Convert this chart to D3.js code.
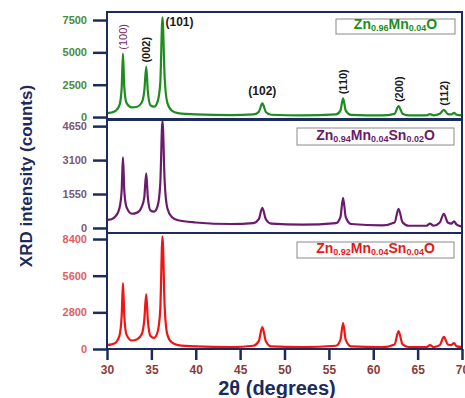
<!DOCTYPE html>
<html>
<head>
<meta charset="utf-8">
<script src="https://cdn.jsdelivr.net/npm/d3@7"></script>
<style>
  body { margin: 0; background: #fff; }
  text { font-family: "Liberation Sans", Arial, sans-serif; font-weight: bold; }
</style>
</head>
<body>
<svg id="chart" width="465" height="398"></svg>
<script>
// 2theta, intensity
const zmo = [[30,300],[30.5,350],[31.0,500],[31.4,900],[31.65,2200],[31.8,4900],[31.95,2300],[32.2,1100],[32.8,750],[33.4,800],[33.9,1100],[34.2,2000],[34.42,3900],[34.6,2000],[34.9,900],[35.3,800],[35.7,1200],[36.0,2600],[36.25,7700],[36.5,3000],[36.8,1100],[37.3,500],[38,300],[40,200],[44,150],[46.5,200],[47.1,400],[47.5,1050],[47.9,400],[48.5,180],[52,130],[55.8,200],[56.3,500],[56.6,1450],[56.9,500],[57.5,170],[61,130],[62.4,250],[62.85,850],[63.3,260],[64,130],[66,130],[66.4,220],[66.8,130],[67.5,250],[67.95,560],[68.4,230],[68.8,200],[69.1,320],[69.4,180],[70,130]];
const zms2 = [[30,370],[30.5,400],[31.0,550],[31.4,900],[31.65,1700],[31.8,3220],[31.95,1700],[32.2,950],[32.8,650],[33.4,700],[33.9,950],[34.2,1400],[34.42,2490],[34.6,1400],[34.9,800],[35.3,750],[35.7,1000],[36.0,2000],[36.25,4900],[36.5,2100],[36.8,900],[37.3,500],[38,350],[40,250],[44,180],[46.5,220],[47.1,400],[47.5,920],[47.9,400],[48.5,200],[52,150],[55.8,220],[56.3,500],[56.6,1380],[56.9,500],[57.5,180],[61,120],[62.4,250],[62.85,875],[63.3,260],[64,100],[66,100],[66.4,200],[66.8,100],[67.5,250],[67.95,650],[68.4,250],[68.8,200],[69.1,300],[69.4,150],[70,60]];
const zms4 = [[30,300],[30.5,350],[31.0,500],[31.4,1000],[31.65,2500],[31.8,5040],[31.95,2500],[32.2,1100],[32.8,650],[33.4,750],[33.9,1100],[34.2,2200],[34.42,4200],[34.6,2200],[34.9,1000],[35.3,850],[35.7,1300],[36.0,3000],[36.25,8600],[36.5,3200],[36.8,1100],[37.3,500],[38,300],[40,200],[44,150],[46.5,250],[47.1,600],[47.5,1680],[47.9,600],[48.5,200],[52,150],[55.8,250],[56.3,700],[56.6,1980],[56.9,700],[57.5,200],[61,150],[62.4,350],[62.85,1370],[63.3,350],[64,150],[66,150],[66.4,300],[66.8,150],[67.5,300],[67.95,920],[68.4,350],[68.8,300],[69.1,460],[69.4,200],[70,150]];

const xTicks = [30, 35, 40, 45, 50, 55, 60, 65, 70];
const yTicksTop = [0, 2500, 5000, 7500];
const yTicksMid = [0, 1550, 3100, 4650];
const yTicksBot = [0, 2800, 5600, 8400];

// peak labels on the top panel: [2theta, label, rotated]
const peakLabels = [[31.8, "(100)", true], [34.42, "(002)", true], [36.25, "(101)", false], [47.5, "(102)", false], [56.6, "(110)", true], [62.85, "(200)", true], [67.95, "(112)", true]];

const navy = "#1b2b5e";
const svg = d3.select("#chart");
const left = 107, right = 462;

const x = d3.scaleLinear().domain([30, 70]).range([left, right]);

const panels = [
  { data: zmo, ticks: yTicksTop, dom: [-150, 8120], top: 12, bottom: 119, line: "#1e8c1e", tickCol: "#4a8a3a",
    legend: [["Zn", ""], ["0.96", "sub"], ["Mn", ""], ["0.04", "sub"], ["O", ""]], box: [336, 19, 119, 15] },
  { data: zms2, ticks: yTicksMid, dom: [-230, 4930], top: 120, bottom: 233, line: "#6b1b6b", tickCol: "#7a5878",
    legend: [["Zn", ""], ["0.94", "sub"], ["Mn", ""], ["0.04", "sub"], ["Sn", ""], ["0.02", "sub"], ["O", ""]], box: [297, 128, 157, 17] },
  { data: zms4, ticks: yTicksBot, dom: [0, 8860], top: 233, bottom: 349, line: "#f01414", tickCol: "#e06060",
    legend: [["Zn", ""], ["0.92", "sub"], ["Mn", ""], ["0.04", "sub"], ["Sn", ""], ["0.04", "sub"], ["O", ""]], box: [297, 242, 157, 16] }
];

panels.forEach(function(p) {
  const y = d3.scaleLinear().domain(p.dom).range([p.bottom, p.top]);
  p.y = y;

  const line = d3.line().x(d => x(d[0])).y(d => y(d[1])).curve(d3.curveMonotoneX);
  svg.append("path")
    .datum(p.data)
    .attr("d", line)
    .attr("fill", "none")
    .attr("stroke", p.line)
    .attr("stroke-width", 2.2);

  svg.append("rect")
    .attr("x", left).attr("y", p.top)
    .attr("width", right - left).attr("height", p.bottom - p.top)
    .attr("fill", "none").attr("stroke", navy).attr("stroke-width", 2);

  const ax = svg.append("g")
    .attr("transform", `translate(${left},0)`)
    .call(d3.axisLeft(y).tickValues(p.ticks).tickSize(14).tickPadding(6).tickFormat(d3.format("d")));
  ax.select(".domain").remove();
  ax.selectAll(".tick line").attr("stroke", navy).attr("stroke-width", 2.5);
  ax.selectAll(".tick text").attr("fill", p.tickCol).style("font-size", "11px").style("font-family", "Liberation Sans, Arial").style("font-weight", "bold");

  // legend box
  svg.append("rect")
    .attr("x", p.box[0]).attr("y", p.box[1]).attr("width", p.box[2]).attr("height", p.box[3])
    .attr("fill", "#fff").attr("stroke", "#8a8a8a").attr("stroke-width", 1);
  const t = svg.append("text")
    .attr("x", p.box[0] + p.box[2] / 2).attr("y", p.box[1] + p.box[3] - 3)
    .attr("text-anchor", "middle").attr("fill", p.line === "#f01414" ? "#e81818" : p.line);
  p.legend.forEach(function(s) {
    t.append("tspan")
      .attr("dy", s[1] === "sub" ? 2 : (t.selectAll("tspan").size() > 0 ? -2 : 0))
      .style("font-size", s[1] === "sub" ? "9px" : "14px")
      .text(s[0]);
  });
});

// x axis on bottom panel
const xa = svg.append("g")
  .attr("transform", `translate(0,349)`)
  .call(d3.axisBottom(x).tickValues(xTicks).tickSize(11).tickPadding(5));
xa.select(".domain").remove();
xa.selectAll(".tick line").attr("stroke", navy).attr("stroke-width", 2.5);
xa.selectAll(".tick text").attr("fill", "#8c3a3a").style("font-size", "12px").style("font-family", "Liberation Sans, Arial").style("font-weight", "bold");

// peak labels
const yTop = panels[0].y;
peakLabels.forEach(function(d) {
  const peak = zmo.find(p => p[0] === d[0]);
  const px = x(d[0]), py = yTop(peak[1]);
  const col = d[1] === "(100)" ? "#6e2a66" : "#1a1a1a";
  if (d[2]) {
    svg.append("text")
      .attr("transform", `translate(${px + 4},${py - 4}) rotate(-90)`)
      .attr("text-anchor", "start")
      .attr("fill", col)
      .style("font-size", "11px")
      .style("font-weight", d[1] === "(100)" ? "normal" : "bold")
      .text(d[1]);
  } else {
    svg.append("text")
      .attr("x", d[0] === 36.25 ? px + 3 : px)
      .attr("y", d[0] === 36.25 ? py + 9 : py - 8)
      .attr("text-anchor", d[0] === 36.25 ? "start" : "middle")
      .attr("fill", col)
      .style("font-size", "12px")
      .text(d[1]);
  }
});

// axis titles
svg.append("text")
  .attr("transform", "translate(32,176) rotate(-90)")
  .attr("text-anchor", "middle")
  .attr("fill", navy)
  .style("font-size", "17px")
  .text("XRD intensity (counts)");

svg.append("text")
  .attr("x", 277).attr("y", 395)
  .attr("text-anchor", "middle")
  .attr("fill", navy)
  .style("font-size", "20px")
  .text("2θ (degrees)");
</script>
</body>
</html>
